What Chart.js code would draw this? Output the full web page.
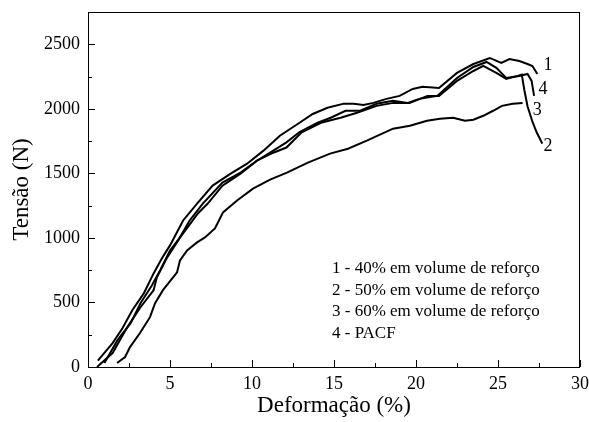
<!DOCTYPE html>
<html>
<head>
<meta charset="utf-8">
<script src="https://cdn.jsdelivr.net/npm/chart.js@4/dist/chart.umd.min.js"></script>
<style>
  html, body { margin: 0; padding: 0; background: #fff; }
  canvas { display: block; }
</style>
</head>
<body>
<canvas id="chart" width="589" height="422"></canvas>
<script>
// Curve data: strain (%) and load (N)
const c1X = [0.6, 1.5, 2.1, 2.7, 3.4, 4.0, 4.5, 5.0, 5.8, 6.65, 7.6, 8.7, 9.7, 10.7, 11.7, 12.9, 13.7, 14.6, 15.6, 16.2, 16.8, 17.4, 18.2, 19.0, 19.8, 20.4, 21.4, 22.5, 23.5, 24.5, 25.2, 25.7, 26.3, 26.8, 27.1, 27.4];
const c1Y = [50, 185, 300, 440, 570, 725, 840, 942, 1135, 1266, 1405, 1498, 1575, 1676, 1792, 1892, 1960, 2008, 2040, 2040, 2030, 2046, 2077, 2100, 2154, 2170, 2162, 2278, 2347, 2394, 2355, 2386, 2370, 2347, 2332, 2270];

const c2X = [1.0, 1.8, 2.6, 3.2, 3.9, 4.4, 5.0, 5.8, 6.7, 7.3, 8.2, 9.3, 10.3, 11.3, 12.1, 13.0, 14.2, 15.4, 16.4, 17.6, 18.6, 19.6, 20.7, 21.4, 22.5, 23.5, 24.1, 24.9, 25.5, 26.2, 26.45, 26.6, 26.8, 27.1, 27.35, 27.7];
const c2Y = [31, 208, 340, 494, 633, 749, 903, 1035, 1189, 1266, 1405, 1498, 1598, 1660, 1700, 1815, 1892, 1931, 1969, 2023, 2046, 2046, 2100, 2100, 2216, 2293, 2332, 2278, 2232, 2255, 2265, 2150, 2020, 1900, 1820, 1730];

const c3X = [1.77, 2.26, 2.56, 3.17, 3.78, 4.09, 4.57, 5.43, 5.61, 6.04, 6.65, 7.13, 7.74, 8.23, 9.09, 10.06, 11.1, 12.13, 13.41, 14.76, 15.85, 17.0, 18.6, 19.63, 20.67, 21.46, 22.26, 22.99, 23.5, 24.1, 24.7, 25.24, 25.9, 26.5];
const c3Y = [31, 77, 154, 263, 386, 494, 595, 734, 826, 903, 965, 1004, 1073, 1197, 1290, 1382, 1452, 1506, 1583, 1653, 1691, 1753, 1846, 1869, 1907, 1923, 1930, 1907, 1915, 1946, 1985, 2023, 2039, 2046];

const c4X = [0.55, 1.5, 2.4, 3.2, 4.0, 4.2, 4.8, 5.5, 6.2, 7.0, 8.2, 9.3, 10.3, 11.3, 12.1, 12.9, 14.0, 14.8, 15.7, 16.6, 17.6, 18.6, 19.5, 20.2, 21.3, 22.5, 23.5, 24.3, 24.9, 25.5, 26.3, 26.8, 27.05, 27.2];
const c4Y = [0, 108, 309, 463, 595, 695, 842, 981, 1135, 1266, 1429, 1506, 1598, 1676, 1740, 1820, 1892, 1931, 1985, 1985, 2039, 2062, 2046, 2077, 2100, 2239, 2324, 2363, 2317, 2239, 2255, 2270, 2216, 2100];

// Curve end labels (number, x, y in data units)
const endLabels = ['1', '4', '3', '2'];
const endLabelX = [28.05, 27.75, 27.4, 28.05];
const endLabelY = [2335, 2155, 1985, 1712];

// Legend text inside the plot
const legendLines = [
    '1 - 40% em volume de reforço',
    '2 - 50% em volume de reforço',
    '3 - 60% em volume de reforço',
    '4 - PACF'
];

const yLabelTicks = [0, 500, 1000, 1500, 2000, 2500];

const serif = "'Liberation Serif', 'Times New Roman', serif";

function toPoints(xs, ys) {
    return xs.map((x, i) => ({ x: x, y: ys[i] }));
}

function curve(xs, ys) {
    return {
        data: toPoints(xs, ys),
        borderColor: '#000',
        borderWidth: 2,
        pointRadius: 0,
        tension: 0,
        fill: false
    };
}

// Frame, inward ticks, curve numbers and the text legend
const decorations = {
    id: 'decorations',
    afterDraw(chart) {
        const ctx = chart.ctx;
        const area = chart.chartArea;
        const xs = chart.scales.x;
        const ys = chart.scales.y;
        ctx.save();
        ctx.strokeStyle = '#000';
        ctx.lineWidth = 1;
        ctx.strokeRect(area.left + 0.5, area.top + 0.5, area.right - area.left - 1, area.bottom - area.top);

        ctx.beginPath();
        for (let v = 0; v <= 30; v += 2.5) {
            const px = Math.round(xs.getPixelForValue(v)) + 0.5;
            const len = v % 5 === 0 ? 7 : 4;
            ctx.moveTo(px, area.bottom);
            ctx.lineTo(px, area.bottom - len);
        }
        for (let v = 0; v <= 2750; v += 250) {
            const py = Math.round(ys.getPixelForValue(v)) + 0.5;
            const len = v % 500 === 0 ? 7 : 4;
            ctx.moveTo(area.left, py);
            ctx.lineTo(area.left + len, py);
        }
        ctx.stroke();

        ctx.fillStyle = '#000';
        ctx.font = '18px ' + serif;
        ctx.textAlign = 'center';
        ctx.textBaseline = 'middle';
        endLabels.forEach((t, i) => {
            ctx.fillText(t, xs.getPixelForValue(endLabelX[i]), ys.getPixelForValue(endLabelY[i]));
        });

        ctx.font = '17px ' + serif;
        ctx.textAlign = 'left';
        legendLines.forEach((t, i) => {
            ctx.fillText(t, 332, 269 + i * 21.5);
        });
        ctx.restore();
    }
};

new Chart(document.getElementById('chart'), {
    type: 'line',
    data: {
        datasets: [curve(c1X, c1Y), curve(c2X, c2Y), curve(c3X, c3Y), curve(c4X, c4Y)]
    },
    options: {
        responsive: false,
        animation: false,
        layout: { padding: { top: 12, right: 9, left: 0, bottom: 0 } },
        plugins: {
            legend: { display: false },
            tooltip: { enabled: false }
        },
        scales: {
            x: {
                type: 'linear',
                min: 0,
                max: 30,
                grid: { display: false, drawTicks: false },
                border: { display: false },
                ticks: {
                    stepSize: 5,
                    padding: 6,
                    color: '#000',
                    font: { family: serif, size: 18 },
                    maxRotation: 0,
                    callback: v => String(v)
                },
                title: {
                    display: true,
                    text: 'Deformação (%)',
                    color: '#000',
                    font: { family: serif, size: 23 },
                    padding: { top: 0, bottom: 2 }
                },
                afterFit(scale) {
                    scale.height = 55;
                    scale.paddingLeft = 0;
                    scale.paddingRight = 0;
                }
            },
            y: {
                type: 'linear',
                min: 0,
                max: 2750,
                grid: { display: false, drawTicks: false },
                border: { display: false },
                afterBuildTicks(scale) {
                    scale.ticks = yLabelTicks.map(v => ({ value: v }));
                },
                ticks: {
                    padding: 8,
                    color: '#000',
                    font: { family: serif, size: 18 },
                    callback: v => String(v)
                },
                title: {
                    display: true,
                    text: 'Tensão (N)',
                    color: '#000',
                    font: { family: serif, size: 23 },
                    padding: { top: 8, bottom: 4 }
                },
                afterFit(scale) {
                    scale.width = 88;
                    scale.paddingTop = 0;
                    scale.paddingBottom = 0;
                }
            }
        }
    },
    plugins: [decorations]
});
</script>
</body>
</html>
